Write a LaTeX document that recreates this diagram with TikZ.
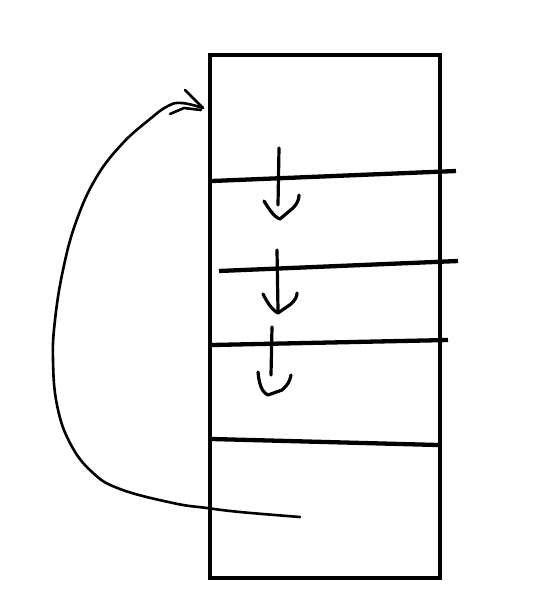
\documentclass[tikz,border=0pt]{standalone}
\begin{document}
\begin{tikzpicture}[x=1pt,y=-1pt,
  frame/.style={line width=4.5pt},
  divider/.style={line width=4.3pt},
  pen/.style={line width=3.2pt,line cap=round,line join=round},
  loopline/.style={line width=2.6pt,line cap=round,line join=round}]
\useasboundingbox (0,0) rectangle (537,616);
% column
\coordinate (tl) at (210,55);
\coordinate (br) at (440,578);
\draw[frame] (tl) rectangle (br);
% dividers
\coordinate (d1a) at (212,181); \coordinate (d1b) at (456,171);
\coordinate (d2a) at (219,271); \coordinate (d2b) at (458,261);
\coordinate (d3a) at (212,345); \coordinate (d3b) at (448,340);
\coordinate (d4a) at (212,439); \coordinate (d4b) at (438,445);
\draw[divider] (d1a) -- (d1b);
\draw[divider] (d2a) -- (d2b);
\draw[divider] (d3a) -- (d3b);
\draw[divider] (d4a) -- (d4b);
% downward arrows
\draw[pen] (279,148) -- (278,205);
\draw[pen] (264,201) .. controls (269,209) and (274,217) .. (280,219) -- (293,208) .. controls (297,204) and (299,200) .. (299,195);
\draw[pen] (277,250) -- (278,310);
\draw[pen] (263,294) .. controls (267,302) and (272,310) .. (278,313) -- (291,304) .. controls (295,300) and (297,297) .. (297,293);
\draw[pen] (272,327) -- (271,375);
\draw[pen] (258,372) .. controls (259,382) and (261,392) .. (268,395) -- (282,390) .. controls (287,386) and (290,381) .. (291,375);
% loop arrow
\coordinate (ls) at (300,517);
\coordinate (le) at (203,108);
\draw[loopline] plot[smooth,tension=0.7] coordinates {(ls) (240,512) (207,508) (173,503) (120,489) (92,472) (70,443) (57,405) (53,360) (55,320) (63,270) (76,222) (96,178) (122,144) (150,119) (168,106) (182,103) (le)};
\draw[loopline] (185,90) -- (le);
\draw[loopline] (170,114) -- (184,108) -- (201,110);
\end{tikzpicture}
\end{document}
